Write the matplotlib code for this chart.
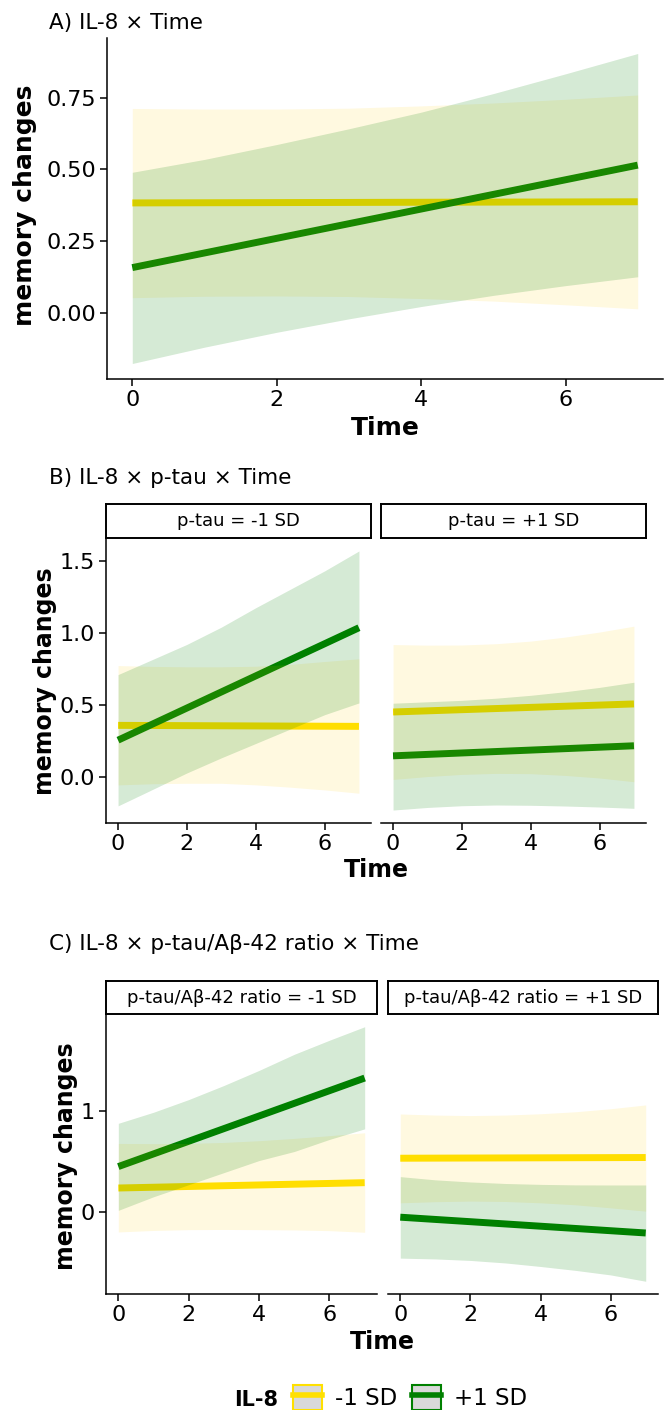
import matplotlib
matplotlib.use("Agg")
import matplotlib.pyplot as plt
from matplotlib.lines import Line2D
from matplotlib.patches import Patch

# shared x values
time = [0, 1, 2, 3, 4, 5, 6, 7]
time_ends = [0, 7]
levels = ["-1 SD", "+1 SD"]

# A) IL-8 x Time
a_fit_minus = [0.383, 0.387]
a_fit_plus = [0.157, 0.515]
a_lo_minus = [0.052, 0.057, 0.058, 0.056, 0.049, 0.040, 0.027, 0.013]
a_hi_minus = [0.713, 0.711, 0.711, 0.714, 0.722, 0.732, 0.745, 0.760]
a_lo_plus = [-0.178, -0.121, -0.069, -0.022, 0.021, 0.060, 0.094, 0.125]
a_hi_plus = [0.490, 0.535, 0.587, 0.642, 0.700, 0.765, 0.834, 0.905]

# B) IL-8 x p-tau x Time  (p-tau = -1 SD, +1 SD)
b_strips = ["p-tau = -1 SD", "p-tau = +1 SD"]
b1_fit_minus = [0.356, 0.349]
b1_fit_plus = [0.253, 1.035]
b1_lo_minus = [-0.058, -0.050, -0.047, -0.047, -0.058, -0.074, -0.093, -0.116]
b1_hi_minus = [0.772, 0.766, 0.763, 0.763, 0.767, 0.780, 0.800, 0.819]
b1_lo_plus = [-0.204, -0.090, 0.025, 0.130, 0.230, 0.330, 0.430, 0.512]
b1_hi_plus = [0.709, 0.814, 0.919, 1.039, 1.174, 1.302, 1.430, 1.569]
b2_fit_minus = [0.449, 0.505]
b2_fit_plus = [0.144, 0.214]
b2_lo_minus = [-0.020, 0.000, 0.015, 0.022, 0.020, 0.008, -0.010, -0.036]
b2_hi_minus = [0.918, 0.914, 0.915, 0.924, 0.942, 0.970, 1.005, 1.046]
b2_lo_plus = [-0.233, -0.215, -0.203, -0.198, -0.200, -0.205, -0.212, -0.221]
b2_hi_plus = [0.510, 0.520, 0.530, 0.545, 0.565, 0.590, 0.620, 0.656]

# C) IL-8 x p-tau/Ab-42 ratio x Time
c_strips = ["p-tau/Aβ-42 ratio = -1 SD", "p-tau/Aβ-42 ratio = +1 SD"]
c1_fit_minus = [0.237, 0.290]
c1_fit_plus = [0.450, 1.330]
c1_lo_minus = [-0.200, -0.185, -0.177, -0.175, -0.177, -0.180, -0.187, -0.203]
c1_hi_minus = [0.680, 0.678, 0.680, 0.690, 0.707, 0.730, 0.757, 0.786]
c1_lo_plus = [0.015, 0.150, 0.270, 0.390, 0.510, 0.600, 0.720, 0.825]
c1_hi_plus = [0.880, 0.990, 1.116, 1.256, 1.406, 1.566, 1.706, 1.840]
c2_fit_minus = [0.533, 0.540]
c2_fit_plus = [-0.053, -0.210]
c2_lo_minus = [0.090, 0.101, 0.107, 0.103, 0.090, 0.070, 0.040, 0.007]
c2_hi_minus = [0.973, 0.962, 0.957, 0.962, 0.975, 0.995, 1.025, 1.063]
c2_lo_plus = [-0.460, -0.468, -0.483, -0.508, -0.543, -0.582, -0.627, -0.690]
c2_hi_plus = [0.350, 0.318, 0.297, 0.282, 0.273, 0.268, 0.267, 0.267]

YEL = "#FFE000"
YEL_FILL = "#FFD000"
GRN = "#008000"

W, H = 665, 1410
fig = plt.figure(figsize=(W / 100, H / 100), dpi=100)


def box(l, t, r, b):
    return [l / W, 1 - b / H, (r - l) / W, (b - t) / H]


def expand(lo, hi, mult=0.05):
    pad = (hi - lo) * mult
    return lo - pad, hi + pad


def draw(ax, fm, fp, lm, hm, lp, hp):
    ax.plot(time_ends, fm, color=YEL, lw=5, solid_capstyle="butt", zorder=2)
    ax.plot(time_ends, fp, color=GRN, lw=5, solid_capstyle="butt", zorder=2)
    ax.fill_between(time, lm, hm, color=YEL_FILL, alpha=0.12, lw=0, zorder=3)
    ax.fill_between(time, lp, hp, color=GRN, alpha=0.165, lw=0, zorder=3)


def style(ax, left=True):
    for s in ["top", "right"]:
        ax.spines[s].set_visible(False)
    ax.spines["bottom"].set_linewidth(1.1)
    ax.spines["left"].set_linewidth(1.1)
    ax.set_xlim(expand(0, 7))
    ax.set_xticks([0, 2, 4, 6])
    ax.tick_params(axis="both", length=5, width=1.1, labelsize=16, pad=3)
    if not left:
        ax.spines["left"].set_visible(False)
        ax.tick_params(axis="y", left=False, labelleft=False)


def strip(pos, label):
    s = fig.add_axes(pos)
    s.set_xticks([])
    s.set_yticks([])
    for sp in s.spines.values():
        sp.set_linewidth(1.4)
    s.text(0.5, 0.5, label, ha="center", va="center", fontsize=13,
           transform=s.transAxes)


# ---- panel A
axA = fig.add_axes(box(107, 38, 663, 379))
draw(axA, a_fit_minus, a_fit_plus, a_lo_minus, a_hi_minus, a_lo_plus, a_hi_plus)
style(axA)
axA.set_ylim(expand(min(a_lo_plus + a_lo_minus), max(a_hi_plus + a_hi_minus)))
axA.set_yticks([0, 0.25, 0.5, 0.75])
axA.set_yticklabels(["0.00", "0.25", "0.50", "0.75"])
fig.text(49 / W, 1 - 23 / H, "A) IL-8 × Time", fontsize=15.5, va="center")
fig.text(25 / W, 1 - 205 / H, "memory changes", fontsize=18, fontweight="bold",
         rotation=90, ha="center", va="center")
fig.text(385 / W, 1 - 428 / H, "Time", fontsize=18, fontweight="bold",
         ha="center", va="center")

# ---- panel B
b_data = [
    (b1_fit_minus, b1_fit_plus, b1_lo_minus, b1_hi_minus, b1_lo_plus, b1_hi_plus),
    (b2_fit_minus, b2_fit_plus, b2_lo_minus, b2_hi_minus, b2_lo_plus, b2_hi_plus),
]
b_lo = min(min(d[2] + d[4]) for d in b_data)
b_hi = max(max(d[3] + d[5]) for d in b_data)
b_cols = [(106, 371), (381, 646)]
for i, (l, r) in enumerate(b_cols):
    ax = fig.add_axes(box(l, 538, r, 823))
    draw(ax, *b_data[i])
    style(ax, left=(i == 0))
    ax.set_ylim(expand(b_lo, b_hi))
    ax.set_yticks([0, 0.5, 1.0, 1.5])
    ax.set_yticklabels(["0.0", "0.5", "1.0", "1.5"])
    strip(box(l, 504, r, 538), b_strips[i])
fig.text(49 / W, 1 - 478 / H, "B) IL-8 × p-tau × Time", fontsize=15.5, va="center")
fig.text(45 / W, 1 - 681 / H, "memory changes", fontsize=17, fontweight="bold",
         rotation=90, ha="center", va="center")
fig.text(376 / W, 1 - 870 / H, "Time", fontsize=17, fontweight="bold",
         ha="center", va="center")

# ---- panel C
c_data = [
    (c1_fit_minus, c1_fit_plus, c1_lo_minus, c1_hi_minus, c1_lo_plus, c1_hi_plus),
    (c2_fit_minus, c2_fit_plus, c2_lo_minus, c2_hi_minus, c2_lo_plus, c2_hi_plus),
]
c_lo = min(min(d[2] + d[4]) for d in c_data)
c_hi = max(max(d[3] + d[5]) for d in c_data)
c_cols = [(106, 377), (388, 658)]
for i, (l, r) in enumerate(c_cols):
    ax = fig.add_axes(box(l, 1014, r, 1294))
    draw(ax, *c_data[i])
    style(ax, left=(i == 0))
    ax.set_ylim(expand(c_lo, c_hi))
    ax.set_yticks([0, 1])
    strip(box(l, 981, r, 1014), c_strips[i])
fig.text(49 / W, 1 - 944 / H, "C) IL-8 × p-tau/Aβ-42 ratio × Time", fontsize=15.5,
         va="center")
fig.text(66 / W, 1 - 1156 / H, "memory changes", fontsize=17, fontweight="bold",
         rotation=90, ha="center", va="center")
fig.text(382 / W, 1 - 1342 / H, "Time", fontsize=17, fontweight="bold",
         ha="center", va="center")

# ---- legend
handles = [
    (Patch(facecolor="#D9D9D9", edgecolor=YEL, lw=1.5), Line2D([], [], color=YEL, lw=4)),
    (Patch(facecolor="#D9D9D9", edgecolor=GRN, lw=1.5), Line2D([], [], color=GRN, lw=4)),
]
fig.text(234 / W, 1 - 1406 / H, "IL-8", fontsize=15, fontweight="bold", va="baseline")
fig.legend(handles, levels, loc="upper left", bbox_to_anchor=(293 / W, 1 - 1385 / H),
           ncol=2, frameon=False, fontsize=16.5, borderpad=0, borderaxespad=0,
           handlelength=1.27, handleheight=1.27, handletextpad=0.57,
           columnspacing=0.65)

fig.savefig("out.png", dpi=100)
